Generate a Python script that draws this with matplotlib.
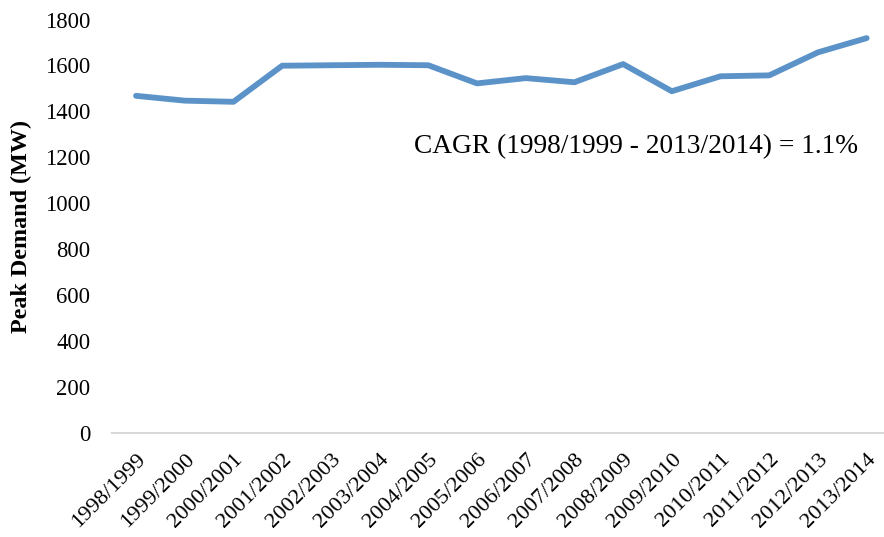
import matplotlib
matplotlib.use("Agg")
import matplotlib.pyplot as plt

years = ["1998/1999", "1999/2000", "2000/2001", "2001/2002", "2002/2003", "2003/2004",
         "2004/2005", "2005/2006", "2006/2007", "2007/2008", "2008/2009", "2009/2010",
         "2010/2011", "2011/2012", "2012/2013", "2013/2014"]
peak_demand = [1468, 1447, 1442, 1599, 1601, 1603, 1601, 1522, 1545, 1527, 1606, 1488,
               1553, 1557, 1657, 1719]
y_ticks = [0, 200, 400, 600, 800, 1000, 1200, 1400, 1600, 1800]

plt.rcParams['font.family'] = ['Liberation Serif', 'DejaVu Serif']

W, H = 884, 537
fig = plt.figure(figsize=(W / 100, H / 100), dpi=100)
left = 111.7 / W
right = 891.0 / W
bottom = (H - 433.3) / H
top = (H - 19.5) / H
ax = fig.add_axes([left, bottom, right - left, top - bottom])

x = list(range(len(years)))
ax.plot(x, peak_demand, color='#5b93c9', linewidth=4.2, solid_capstyle='round',
        solid_joinstyle='round')

ax.set_xlim(-0.5, len(years) - 0.5)
ax.set_ylim(0, 1800)
ax.set_yticks(y_ticks)
ax.set_yticklabels([str(v) for v in y_ticks], fontsize=16.3)
ax.set_xticks(x)
ax.set_xticklabels(years, rotation=45, ha='right', rotation_mode='anchor', fontsize=16.2)
ax.tick_params(axis='both', length=0)
ax.tick_params(axis='y', pad=15.5)
ax.tick_params(axis='x', pad=12)

for s in ['top', 'right', 'left']:
    ax.spines[s].set_visible(False)
ax.spines['bottom'].set_color('#d9d9d9')
ax.spines['bottom'].set_linewidth(1.5)

ax.set_ylabel("Peak Demand (MW)", fontsize=17.4, fontweight='bold')
ax.yaxis.set_label_coords(-(111.7 - 32) / (891 - 111.7), 0.5)

ax.text(10.27, 1245, "CAGR (1998/1999 - 2013/2014) = 1.1%", fontsize=19.7,
        ha='center', va='center')

fig.savefig("out.png", dpi=100)
